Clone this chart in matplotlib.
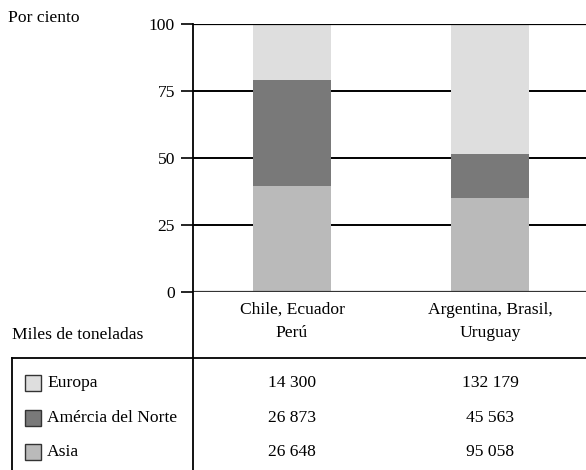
import matplotlib
matplotlib.use("Agg")
import matplotlib.pyplot as plt
import numpy as np
from matplotlib.lines import Line2D
from matplotlib.patches import Rectangle

plt.rcParams['font.family'] = ['Liberation Serif', 'DejaVu Serif']

# data (miles de toneladas)
groups = ["Chile, Ecuador\nPerú", "Argentina, Brasil,\nUruguay"]
regions = ["Europa", "Amércia del Norte", "Asia"]
europa = [14300, 132179]
norte = [26873, 45563]
asia = [26648, 95058]
colors = {"Europa": "#dedede", "Amércia del Norte": "#797979", "Asia": "#bababa"}
yticks = [0, 25, 50, 75, 100]

W, H = 586, 470
FS = 12.6


def fx(x):
    return x / W


def fy(y):
    return 1 - y / H


def fmt(v):
    return "{:,}".format(v).replace(",", " ")


fig = plt.figure(figsize=(W / 100, H / 100), dpi=100)
ax = fig.add_axes([fx(193), fy(291.5), 1 - fx(193), fy(24) - fy(291.5)])

tot = np.array(europa) + np.array(norte) + np.array(asia)
p_asia = np.array(asia) / tot * 100
p_norte = np.array(norte) / tot * 100
p_eur = np.array(europa) / tot * 100

xpos = np.arange(len(groups))
bw = 0.394
ax.bar(xpos, p_asia, bw, color=colors["Asia"], zorder=2)
ax.bar(xpos, p_norte, bw, bottom=p_asia, color=colors["Amércia del Norte"], zorder=2)
ax.bar(xpos, p_eur, bw, bottom=p_asia + p_norte, color=colors["Europa"], zorder=2)

for yv in [25, 50, 75]:
    ax.axhline(yv, color="black", lw=1.4, zorder=1)
ax.axhline(100, color="black", lw=1.6, zorder=3)
ax.axhline(0, color="#333333", lw=1.6, zorder=3)

ax.set_xlim(-0.5, 1.485)
ax.set_ylim(0, 100)
for s in ax.spines.values():
    s.set_visible(False)
ax.set_xticks([])
ax.set_yticks(yticks)
ax.tick_params(axis="y", length=9, width=1.2, pad=4, labelsize=FS)

# axis vertical line through the table
fig.add_artist(Line2D([fx(193), fx(193)], [0, fy(24)], color="black", lw=1.3))

fig.text(fx(8), fy(18), "Por ciento", fontsize=FS, va="center", ha="left")
fig.text(fx(12), fy(335), "Miles de toneladas", fontsize=FS, va="center", ha="left")

centers = [292, 490]
for c, g in zip(centers, groups):
    fig.text(fx(c), fy(321.5), g, fontsize=FS, ha="center", va="center", linespacing=1.6)

# table
fig.add_artist(Line2D([fx(12), 1], [fy(358), fy(358)], color="black", lw=1.3))
fig.add_artist(Line2D([fx(12), fx(12)], [0, fy(358)], color="black", lw=1.3))

rows_y = [383, 418, 452]
vals = [europa, norte, asia]
for ry, name, v in zip(rows_y, regions, vals):
    fig.add_artist(Rectangle((fx(25), fy(ry + 8)), fx(16), 16 / H,
                             facecolor=colors[name], edgecolor="#333333", lw=1.0))
    fig.text(fx(47), fy(ry), name, fontsize=FS, va="center", ha="left")
    for c, val in zip(centers, v):
        fig.text(fx(c), fy(ry), fmt(val), fontsize=FS, va="center", ha="center")

fig.savefig("out.png", dpi=100)
